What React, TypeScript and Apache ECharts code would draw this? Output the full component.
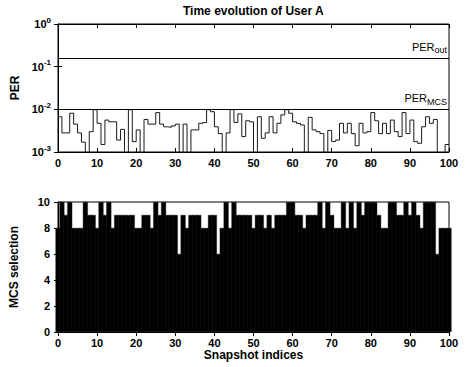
import React, { useEffect, useRef } from "react";
import * as echarts from "echarts";

// PER per snapshot (value held over [i, i+1])
const PER_VALUES = [
  0.0067, 0.0028, 0.0028, 0.0081, 0.0045, 0.0028, 0.0017, 0.0007, 0.003, 0.0098,
  0.0047, 0.0015, 0.0056, 0.0051, 0.0051, 0.0019, 0.0034, 0.0007, 0.0098, 0.00175,
  0.0033, 0.0007, 0.0058, 0.0045, 0.0045, 0.0084, 0.0045, 0.0039, 0.0038, 0.0041,
  0.0045, 0.0007, 0.0045, 0.0007, 0.0033, 0.0033, 0.0047, 0.0049, 0.0098, 0.0088,
  0.0039, 0.0027, 0.0007, 0.0028, 0.0098, 0.0049, 0.0078, 0.0023, 0.0054, 0.0051,
  0.0007, 0.0067, 0.0021, 0.0028, 0.0067, 0.0028, 0.0047, 0.0074, 0.0098, 0.0081,
  0.0051, 0.0047, 0.0043, 0.0007, 0.0065, 0.0033, 0.003, 0.0027, 0.0007, 0.0032,
  0.00175, 0.0019, 0.0047, 0.0028, 0.0047, 0.0027, 0.0014, 0.0047, 0.0028, 0.003,
  0.0084, 0.0054, 0.0027, 0.0047, 0.0027, 0.0056, 0.003, 0.0023, 0.0084, 0.0027,
  0.0056, 0.00175, 0.0016, 0.0039, 0.0067, 0.0047, 0.0058, 0.0007, 0.0007, 0.0015,
];

// MCS selection per snapshot (bars centred on 0..100)
const MCS_VALUES = [
  8, 10, 9, 10, 8, 8, 8, 10, 9, 9,
  8, 10, 9, 10, 8, 9, 9, 9, 9, 9,
  8, 8, 9, 9, 8, 10, 9, 10, 9, 9,
  9, 6, 9, 8, 9, 9, 9, 8, 8, 9,
  9, 6, 8, 10, 8, 10, 9, 9, 9, 9,
  8, 9, 9, 8, 9, 8, 9, 9, 9, 10,
  10, 9, 9, 8, 9, 9, 9, 10, 8, 10,
  9, 8, 8, 10, 8, 10, 8, 10, 9, 10,
  10, 10, 9, 8, 8, 10, 10, 9, 9, 10,
  9, 10, 9, 8, 10, 10, 10, 6, 8, 8,
  8,
];

const PER_OUT = 0.16;
const PER_MCS = 0.01;

const X_TICKS = [0, 10, 20, 30, 40, 50, 60, 70, 80, 90, 100];
const MCS_TICKS = [0, 2, 4, 6, 8, 10];

const FONT = '"Liberation Sans", Arial, sans-serif';

export default function App() {
  const ref = useRef<HTMLDivElement>(null);

  useEffect(() => {
    if (!ref.current) return;
    const chart = echarts.init(ref.current, null, { renderer: "svg" });

    const lineData: [number, number][] = PER_VALUES.map((v, i) => [i, v]);
    lineData.push([PER_VALUES.length, PER_VALUES[PER_VALUES.length - 1]]);
    const barData = MCS_VALUES.map((v, k) => [k, v]);

    const tickLabel = {
      fontFamily: FONT,
      fontWeight: "bold" as const,
      fontSize: 11,
      color: "#000",
    };
    const axisLine = { show: true, lineStyle: { color: "#000", width: 1 } };
    const axisTick = { show: true, inside: true, length: 4, lineStyle: { color: "#000" } };

    const xMin = X_TICKS[0];
    const xMax = X_TICKS[X_TICKS.length - 1];
    const xInterval = X_TICKS[1] - X_TICKS[0];

    const baseX = (gridIndex: number, position: "top" | "bottom", labels: boolean, name = "") => ({
      type: "value",
      gridIndex,
      position,
      min: xMin,
      max: xMax,
      interval: xInterval,
      axisLine,
      axisTick,
      splitLine: { show: false },
      axisLabel: { show: labels, margin: 5, ...tickLabel },
      name,
      nameLocation: "middle",
      nameGap: 17,
      nameTextStyle: { fontFamily: FONT, fontWeight: "bold", fontSize: 12, color: "#000" },
    });

    const supLabel = (v: number) => `10{sup|${Math.round(Math.log10(v))}}`;

    const option: any = {
      animation: false,
      backgroundColor: "#fff",
      title: {
        text: "Time evolution of User A",
        left: 183,
        top: 5,
        padding: 0,
        textStyle: { fontFamily: FONT, fontWeight: "bold", fontSize: 12, color: "#000" },
      },
      grid: [
        { left: 58, right: 16, top: 24, height: 128, show: true, borderColor: "#000", borderWidth: 1, backgroundColor: "transparent" },
        { left: 58, right: 16, top: 202, height: 130, show: true, borderColor: "#000", borderWidth: 1, backgroundColor: "transparent" },
      ],
      xAxis: [
        baseX(0, "bottom", true),
        baseX(0, "top", false),
        baseX(1, "bottom", true, "Snapshot indices"),
        baseX(1, "top", false),
      ],
      yAxis: [
        {
          type: "log",
          logBase: 10,
          gridIndex: 0,
          position: "left",
          min: 0.001,
          max: 1,
          axisLine,
          axisTick,
          splitLine: { show: false },
          axisLabel: {
            margin: 7,
            ...tickLabel,
            formatter: supLabel,
            rich: {
              sup: { fontFamily: FONT, fontWeight: "bold", fontSize: 8, color: "#000", padding: [0, 0, 8, 0] },
            },
          },
          name: "PER",
          nameLocation: "middle",
          nameGap: 32,
          nameRotate: 90,
          nameTextStyle: { fontFamily: FONT, fontWeight: "bold", fontSize: 12, color: "#000" },
        },
        {
          type: "log",
          logBase: 10,
          gridIndex: 0,
          position: "right",
          min: 0.001,
          max: 1,
          axisLine,
          axisTick,
          splitLine: { show: false },
          axisLabel: { show: false },
        },
        {
          type: "value",
          gridIndex: 1,
          position: "left",
          min: MCS_TICKS[0],
          max: MCS_TICKS[MCS_TICKS.length - 1],
          interval: MCS_TICKS[1] - MCS_TICKS[0],
          axisLine,
          axisTick,
          splitLine: { show: false },
          axisLabel: { margin: 8, ...tickLabel },
          name: "MCS selection",
          nameLocation: "middle",
          nameGap: 38,
          nameRotate: 90,
          nameTextStyle: { fontFamily: FONT, fontWeight: "bold", fontSize: 12, color: "#000" },
        },
        {
          type: "value",
          gridIndex: 1,
          position: "right",
          min: MCS_TICKS[0],
          max: MCS_TICKS[MCS_TICKS.length - 1],
          interval: MCS_TICKS[1] - MCS_TICKS[0],
          axisLine,
          axisTick,
          splitLine: { show: false },
          axisLabel: { show: false },
        },
      ],
      series: [
        {
          type: "line",
          xAxisIndex: 0,
          yAxisIndex: 0,
          step: "end",
          data: lineData,
          showSymbol: false,
          symbol: "none",
          clip: true,
          lineStyle: { color: "#1a1a1a", width: 1 },
          z: 3,
          markLine: {
            silent: true,
            symbol: ["none", "none"],
            lineStyle: { color: "#000", width: 1, type: "solid" },
            label: {
              position: "insideEndTop",
              distance: [2, 3],
              fontFamily: FONT,
              fontSize: 11,
              color: "#000",
              rich: {
                sub: { fontFamily: FONT, fontSize: 9, color: "#000", padding: [7, 0, 0, 0] },
              },
            },
            data: [
              { yAxis: PER_OUT, label: { formatter: "PER{sub|out}" } },
              { yAxis: PER_MCS, label: { formatter: "PER{sub|MCS}" } },
            ],
          },
        },
        {
          type: "bar",
          xAxisIndex: 2,
          yAxisIndex: 2,
          data: barData,
          barWidth: 5,
          barGap: "-100%",
          clip: true,
          itemStyle: { color: "#000", borderColor: "#1e1e1e", borderWidth: 0.4 },
        },
      ],
    };

    chart.setOption(option);
    return () => chart.dispose();
  }, []);

  return (
    <div
      ref={ref}
      style={{ position: "absolute", left: 0, top: 0, width: 465, height: 367 }}
    />
  );
}
